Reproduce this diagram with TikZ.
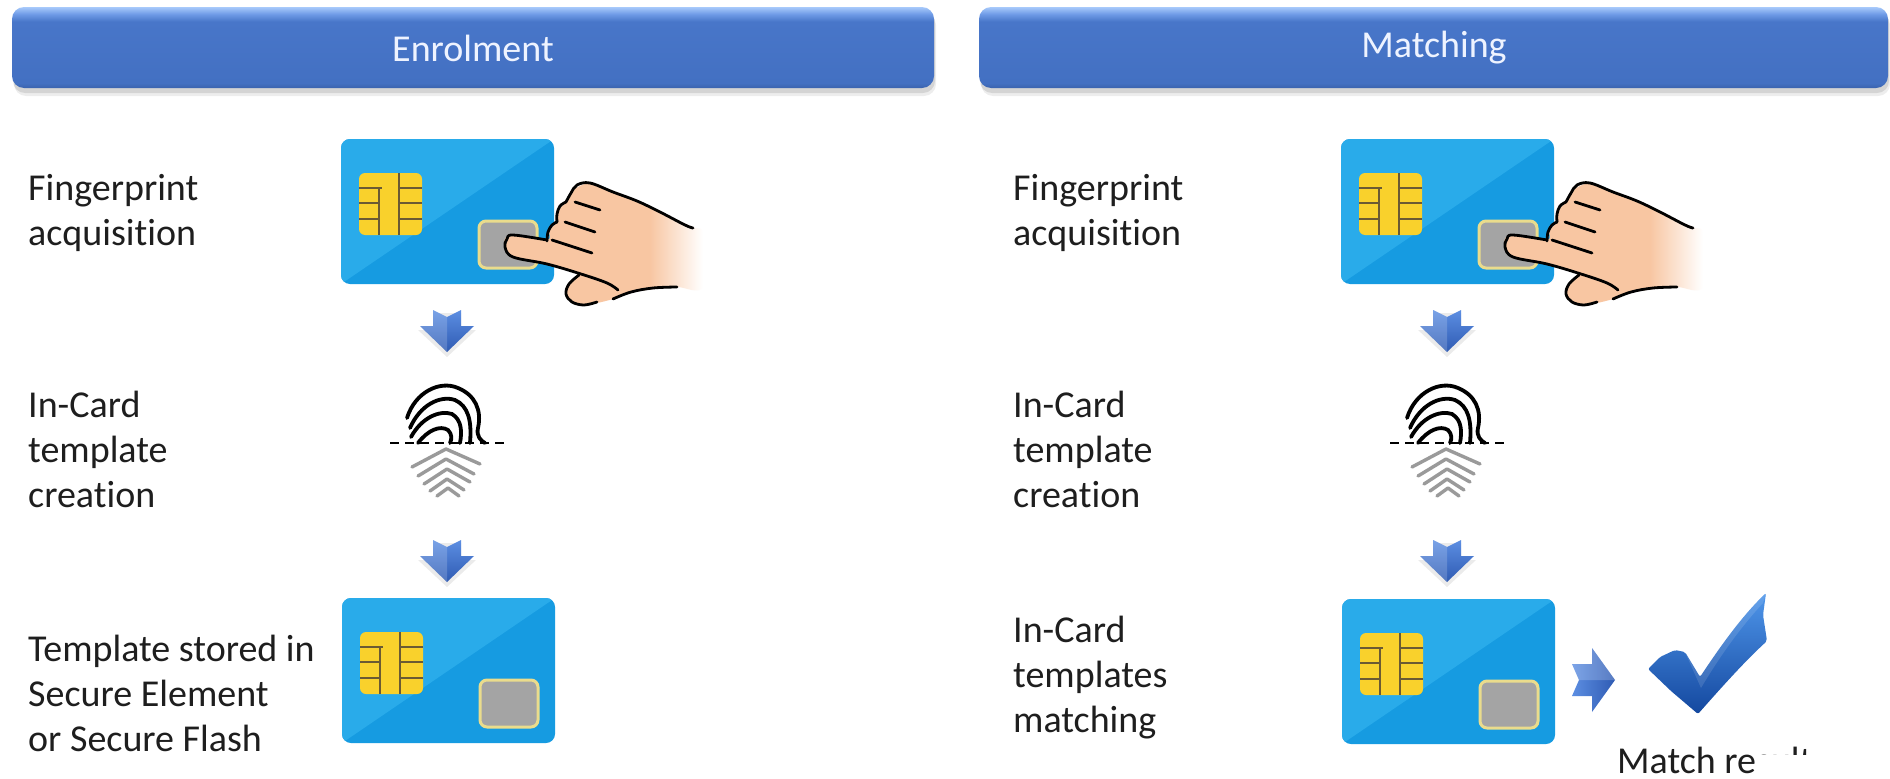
\documentclass[tikz,border=0pt]{standalone}
\usepackage{fontspec}
\setmainfont[Ligatures=NoCommon]{Carlito}
\usetikzlibrary{calc}

% palette
\definecolor{hdrbot}{HTML}{3A63AE}
\definecolor{hdrmid}{HTML}{4370C2}
\definecolor{hdrmid2}{HTML}{4876C9}
\definecolor{hdrhi}{HTML}{6E9AE6}
\definecolor{hdrtop}{HTML}{A8CAFB}
\definecolor{hdrtext}{HTML}{EEF3FF}
\definecolor{cardlight}{HTML}{29ABEA}
\definecolor{carddark}{HTML}{169BE1}
\definecolor{chipgold}{HTML}{F9D12C}
\definecolor{chipline}{HTML}{6B5A33}
\definecolor{sensorgray}{HTML}{A4A4A4}
\definecolor{sensoredge}{HTML}{EADC8C}
\definecolor{skin}{HTML}{F8C6A2}
\definecolor{arrowhi}{HTML}{5C8EE2}
\definecolor{arrowlo}{HTML}{2F5BB3}
\definecolor{checkhi}{HTML}{4F96EA}
\definecolor{checklo}{HTML}{14489F}
\definecolor{inktext}{HTML}{1E1E1E}
\definecolor{ridgegray}{HTML}{9A9A9A}

% header bar: light rim on top, slightly darker base
\pgfdeclareverticalshading{hdrshade}{100bp}{color(0bp)=(hdrbot); color(25bp)=(hdrbot);
  color(28bp)=(hdrmid); color(66bp)=(hdrmid2); color(70.5bp)=(hdrhi); color(75bp)=(hdrtop); color(100bp)=(hdrtop)}
% skin tone fading out towards the wrist
\pgfdeclarehorizontalshading{handfade}{100bp}{color(0bp)=(skin); color(25bp)=(skin);
  color(61bp)=(skin); color(74bp)=(white); color(100bp)=(white)}

\tikzset{
  x=1pt, y=-1pt,
  label text/.style={font=\fontsize{38}{45}\selectfont, text=inktext, align=left, anchor=west, inner sep=0pt},
  header text/.style={font=\fontsize{38}{45}\selectfont, text=hdrtext, inner sep=0pt},
  outline/.style={draw=black, line width=2.8, line cap=round, line join=round},
  % smart card, origin at its top-left corner
  card/.pic={
    \fill[carddark, rounded corners=9] (0,0) rectangle (213,145);
    \begin{scope}
      \clip[rounded corners=9] (0,0) rectangle (213,145);
      \fill[cardlight] (0,0) -- (213,0) -- (0,145) -- cycle;
    \end{scope}
    \fill[chipgold, rounded corners=6] (18,34) rectangle (81,96);
    \begin{scope}
      \clip[rounded corners=6] (18,34) rectangle (81,96);
      \draw[chipline, line width=2.6]
        (18,49) -- (41,49)  (38,49) -- (38,96)
        (18,64) -- (38,64)  (18,80) -- (38,80)
        (58,34) -- (58,96)
        (58,49) -- (81,49)  (58,64) -- (81,64)  (58,80) -- (81,80);
    \end{scope}
    \filldraw[fill=sensorgray, draw=sensoredge, line width=3, rounded corners=7] (138,82) rectangle (196,129);
  },
  % hand pressing the sensor, same origin as the card
  hand/.pic={
    \shade[shading=handfade]
      plot[smooth cycle, tension=0.55] coordinates {
        (168,97) (206,101) (208,91) (216,83) (217,72) (225,63) (231,52) (249,44)
        (272,53) (296,62) (319,73) (352,88) (362,95) (362,148) (336,148) (312,150)
        (289,154) (272,160) (256,164) (242,166) (230,163) (225,155) (228,145) (236,135)
        (206,125) (172,118) (164,108)};
    % finger outlines
    \draw[outline] plot[smooth, tension=0.6] coordinates {(206,101) (172,96) (166,100) (164,108) (172,118) (206,125) (240,135) (266,144) (277,151)};
    \draw[outline] plot[smooth, tension=0.6] coordinates {(206,102) (207,93) (211,86) (216,83)};
    \draw[outline] plot[smooth, tension=0.6] coordinates {(216,83) (216,75) (219,67) (225,63)};
    \draw[outline] plot[smooth, tension=0.6] coordinates {(225,63) (230,54) (236,46) (249,44) (272,53) (296,62) (319,73) (344,86) (352,89)};
    \draw[outline] (234,63) -- (259,71);
    \draw[outline] (224,83) -- (254,93);
    \draw[outline] (211,101) -- (251,114);
    % thumb and wrist edge
    \draw[outline] plot[smooth, tension=0.6] coordinates {(238,136) (228,145) (225,155) (231,163) (243,166) (256,163)};
    \draw[outline] plot[smooth, tension=0.6] coordinates {(272,160) (290,153) (312,149) (336,148)};
  },
  % block arrow pointing down, origin at the top centre
  downarrow/.pic={
    \fill[black, opacity=0.08] (-14,3) -- (14,3) -- (14,20) -- (29,20) -- (0,47) -- (-29,20) -- (-14,20) -- cycle;
    \shade[top color=arrowhi, bottom color=arrowlo] (-14,0) -- (0,7) -- (14,0) -- (14,16) -- (27,16) -- (0,42) -- (-27,16) -- (-14,16) -- cycle;
    \fill[white, opacity=0.18] (-14,0) -- (0,7) -- (0,42) -- (-27,16) -- (-14,16) -- cycle;
  },
  % block arrow pointing right, origin at the middle of its tail
  rightarrow/.pic={
    \shade[left color=arrowhi, right color=arrowlo] (0,-16) -- (20,-16) -- (20,-32) -- (43,0) -- (20,32) -- (20,16) -- (0,16) -- (7,0) -- cycle;
    \fill[white, opacity=0.2] (0,-16) -- (20,-16) -- (20,-32) -- (43,0) -- (7,0) -- cycle;
  },
  % fingerprint split by the capture line, origin on that line
  fprint/.pic={
    \begin{scope}[line width=3.8, line cap=round, draw=black]
      \draw (-38,-25) .. controls (-30,-51) and (-5,-63) .. (13,-55) .. controls (30,-48) and (37,-33) .. (33,-15) .. controls (31,-7) and (36,-2) .. (40,0);
      \draw (-35,-15) .. controls (-25,-38) and (-5,-48) .. (10,-43) .. controls (23,-37) and (27,-23) .. (25,0);
      \draw (-34,-6) .. controls (-23,-26) and (-5,-33) .. (7,-29) .. controls (17,-23) and (17,-11) .. (15,0);
      \draw (-27,0) .. controls (-17,-13) and (-5,-18) .. (3,-13) .. controls (7,-9) and (7,-4) .. (5,0);
    \end{scope}
    \begin{scope}[line width=3.4, line cap=round, line join=round, draw=ridgegray]
      \draw (-33,24) -- (1,6) -- (35,21);
      \draw (-27,33) -- (1,16) -- (29,31);
      \draw (-21,41) -- (2,26) -- (25,39);
      \draw (-15,48) -- (2,36) -- (19,47);
      \draw (-8,53) -- (3,45) -- (14,53);
    \end{scope}
    \draw[black, line width=2.8, dash pattern=on 9pt off 6pt] (-55,0) -- (62,0);
  }
}

\begin{document}
\begin{tikzpicture}
\useasboundingbox (0,0) rectangle (1890,779);
\fill[white] (0,0) rectangle (1890,779);

% ---------- section headers ----------
\foreach \xa/\xb in {12/934, 979/1888}{
  \fill[black, opacity=0.07, rounded corners=12] (\xa+2,13) rectangle (\xb+2,96);
  \fill[black, opacity=0.10, rounded corners=12] (\xa+1,11) rectangle (\xb+1,93);
  \shade[shading=hdrshade, rounded corners=12] (\xa,7) rectangle (\xb,88);
}
\node[header text] (hEnrol) at (473,48) {Enrolment};
\node[header text] (hMatch) at (1434,48) {Matching};

% ---------- step labels ----------
\node[label text] (eAcq)  at (28,213) {Fingerprint\\acquisition};
\node[label text] (eTpl)  at (28,449) {In-Card\\template\\creation};
\node[label text] (eStore) at (28,693) {Template stored in\\Secure Element\\or Secure Flash};

\node[label text] (mAcq)  at (1013,213) {Fingerprint\\acquisition};
\node[label text] (mTpl)  at (1013,449) {In-Card\\template\\creation};
\node[label text] (mMatch) at (1013,678) {In-Card\\templates\\matching};

% ---------- enrolment column ----------
\pic (eCardA) at (341,139) {card};
\pic (eHand)  at (341,139) {hand};
\pic (eArrA)  at (447,310) {downarrow};
\pic (ePrint) at (445,443) {fprint};
\pic (eArrB)  at (447,540) {downarrow};
\pic (eCardB) at (342,598) {card};

% ---------- matching column ----------
\pic (mCardA) at (1341,139) {card};
\pic (mHand)  at (1341,139) {hand};
\pic (mArrA)  at (1447,310) {downarrow};
\pic (mPrint) at (1445,443) {fprint};
\pic (mArrB)  at (1447,540) {downarrow};
\pic (mCardB) at (1342,599) {card};
\pic (mArrR)  at (1572,680) {rightarrow};

% match result tick
\shade[top color=checkhi, bottom color=checklo, rounded corners=2]
  (1648,669) -- (1660,657) -- (1675,650) -- (1685,652) -- (1700,677)
  .. controls (1718,650) and (1740,618) .. (1766,593)
  -- (1763,615) -- (1767,641)
  .. controls (1745,661) and (1720,689) .. (1698,714)
  -- (1671,691) -- cycle;
\fill[white, opacity=0.12] (1685,652) -- (1700,677) .. controls (1718,650) and (1740,618) .. (1766,593) -- (1763,603) .. controls (1740,628) and (1720,656) .. (1701,688) -- cycle;

\node[font=\fontsize{38}{45}\selectfont, text=inktext, anchor=base west, inner sep=0pt] (mResult) at (1617,773) {Match re\rlap{sult}};
\fill[white] (mResult.east |- 0,755) rectangle (1890,779);
\end{tikzpicture}
\end{document}
